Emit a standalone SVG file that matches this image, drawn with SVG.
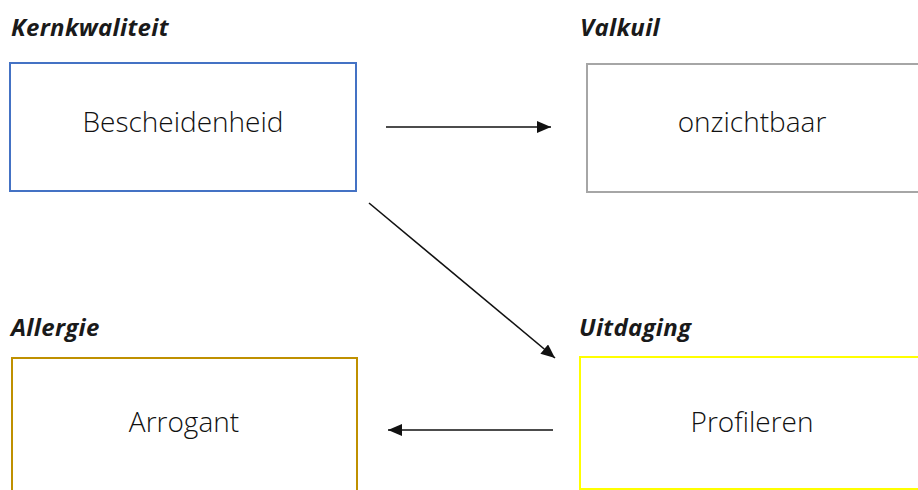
<svg xmlns="http://www.w3.org/2000/svg" width="918" height="490" viewBox="0 0 918 490">
<defs>
<style>
.title{font-family:"Open Sans","Noto Sans","Liberation Sans",sans-serif;font-weight:700;font-style:italic;font-size:24px;letter-spacing:0.3px;fill:#1a1a1a}
.body{font-family:"Open Sans","Noto Sans","Liberation Sans",sans-serif;font-weight:300;font-size:28px;fill:#111;text-anchor:middle}
.box{fill:#fff;stroke-width:2}
.conn{stroke:#111;stroke-width:1.6;fill:none;marker-end:url(#ah)}
</style>
<marker id="ah" viewBox="0 0 14 12" refX="14" refY="6" markerWidth="14" markerHeight="12" markerUnits="userSpaceOnUse" orient="auto">
<path d="M0,0 L14,6 L0,12 z" fill="#111"/>
</marker>
</defs>
<rect width="918" height="490" fill="#fff"/>
<g id="kernkwaliteit">
<text class="title" x="11" y="36">Kernkwaliteit</text>
<rect class="box" x="10" y="63" width="346" height="128" stroke="#4472C4"/>
<text class="body" x="183" y="132">Bescheidenheid</text>
</g>
<g id="valkuil">
<text class="title" x="580" y="36">Valkuil</text>
<rect class="box" x="587" y="64" width="340" height="128" stroke="#A6A6A6"/>
<text class="body" x="752" y="132">onzichtbaar</text>
</g>
<g id="allergie">
<text class="title" x="11" y="336">Allergie</text>
<rect class="box" x="12" y="358" width="345" height="140" stroke="#BF9000"/>
<text class="body" x="184" y="432">Arrogant</text>
</g>
<g id="uitdaging">
<text class="title" x="579" y="336">Uitdaging</text>
<rect class="box" x="580" y="357" width="350" height="132" stroke="#FFFF00"/>
<text class="body" x="752" y="432">Profileren</text>
</g>
<g id="connectors">
<line class="conn" x1="386" y1="127" x2="551" y2="127"/>
<line class="conn" x1="369" y1="203" x2="555" y2="358"/>
<line class="conn" x1="553" y1="430" x2="388" y2="430"/>
</g>
</svg>
